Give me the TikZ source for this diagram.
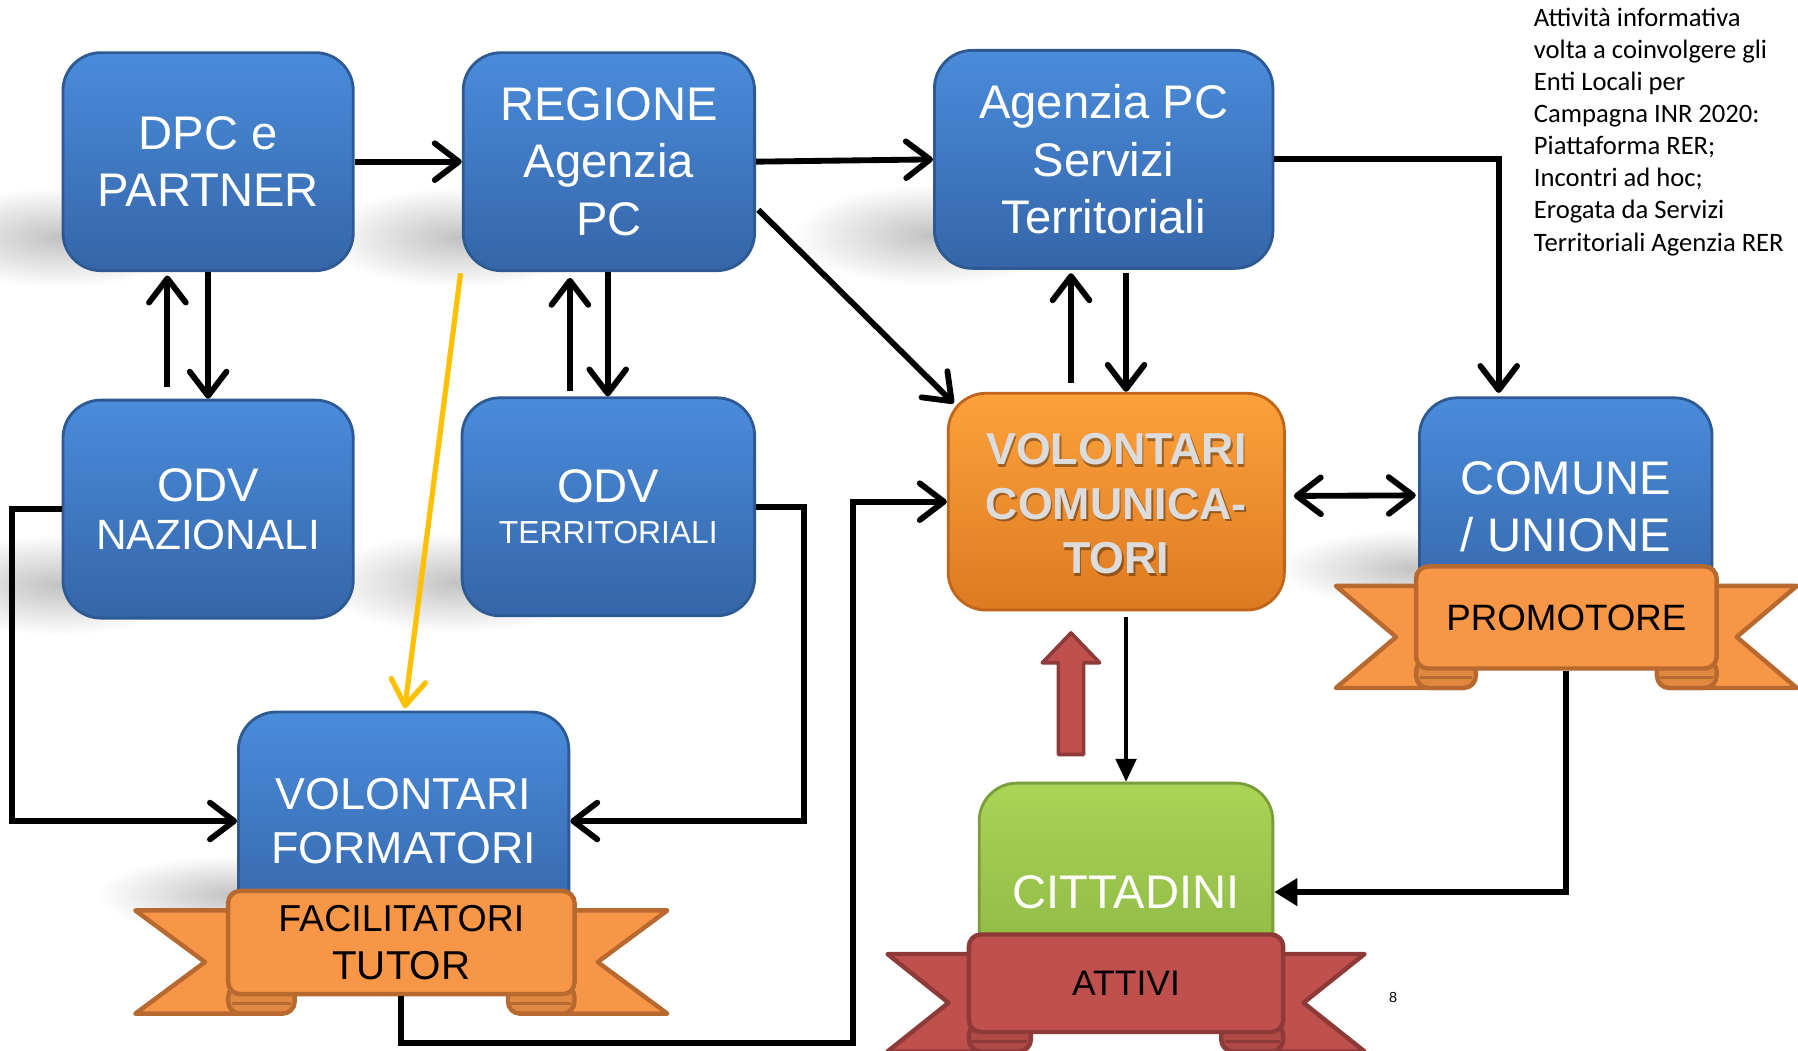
\documentclass[tikz,border=0pt]{standalone}
\usepackage{fontspec}
\setmainfont{Liberation Sans}
\newfontfamily\calib{Carlito}
\usetikzlibrary{arrows.meta,calc}
\definecolor{blueTop}{HTML}{4A8CDB}
\definecolor{blueBot}{HTML}{3565A8}
\definecolor{blueLine}{HTML}{2E5A94}
\definecolor{orTop}{HTML}{FCA13C}
\definecolor{orBot}{HTML}{DD7A22}
\definecolor{orLine}{HTML}{C0651A}
\definecolor{grTop}{HTML}{A9D455}
\definecolor{grBot}{HTML}{89B342}
\definecolor{grLine}{HTML}{7A9E3A}
\definecolor{rofill}{HTML}{F79646}
\definecolor{roline}{HTML}{B7692F}
\definecolor{rodark}{HTML}{E08840}
\definecolor{rrfill}{HTML}{C0504D}
\definecolor{rrline}{HTML}{8E3A38}
\definecolor{rrdark}{HTML}{B04A47}
\definecolor{yel}{HTML}{FFC000}
\definecolor{volctext}{HTML}{DCDCDC}
\tikzset{
  every node/.style={inner sep=0pt},
  boxbase/.style={rounded corners=0.33cm, line width=0.7pt, align=center, minimum height=1.9cm},
  bluebox/.style={boxbase, top color=blueTop, bottom color=blueBot, draw=blueLine, text=white},
  orangebox/.style={boxbase, top color=orTop, bottom color=orBot, draw=orLine},
  greenbox/.style={boxbase, top color=grTop, bottom color=grBot, draw=grLine, text=white},
  fbig/.style={font=\fontsize{11.7pt}{14.2pt}\selectfont},
  fmid/.style={font=\fontsize{11.1pt}{13.4pt}\selectfont},
  arr/.style={line width=1.45pt, -{Straight Barb[length=2.1mm,width=3.2mm,round]}},
  darr/.style={line width=1.45pt, {Straight Barb[length=2.1mm,width=3.2mm,round]}-{Straight Barb[length=2.1mm,width=3.2mm,round]}},
  yarr/.style={line width=1.3pt, draw=yel, -{Straight Barb[length=2.2mm,width=3mm,round]}},
  tarr/.style={line width=0.9pt, -{Triangle[length=2mm,width=1.8mm]}},
  tarrb/.style={line width=1.45pt, -{Triangle[length=2mm,width=2.3mm]}},
  softshadow/.style={inner color=black!24, outer color=white},
}
% ribbon banner: #1 name, #2 left, #3 right, #4 top, #5 bottom, #6 wing reach, #7 colour prefix, #8 fold width, #9 text
\newcommand\ribbonbanner[9]{%
  \filldraw[fill=#7fill, draw=#7line, line width=1.1pt, line join=round]
    ({#2+5},{#4+17}) -- ({#2-#6},{#4+17}) -- ({#2-0.25*#6},{(#4+#5)/2+17}) -- ({#2-#6},{#5+17})
    -- ({#2+#8-10},{#5+17}) -- ({#2+5},{#5}) -- cycle;
  \filldraw[fill=#7fill, draw=#7line, line width=1.1pt, line join=round]
    ({#3-5},{#4+17}) -- ({#3+#6},{#4+17}) -- ({#3+0.25*#6},{(#4+#5)/2+17}) -- ({#3+#6},{#5+17})
    -- ({#3-#8+10},{#5+17}) -- ({#3-5},{#5}) -- cycle;
  \filldraw[fill=#7dark, draw=#7line, line width=1.1pt, rounded corners=3pt] ({#2},{#5-8}) rectangle ({#2+#8},{#5+17});
  \filldraw[fill=#7dark, draw=#7line, line width=1.1pt, rounded corners=3pt] ({#3-#8},{#5-8}) rectangle ({#3},{#5+17});
  \draw[#7line, line width=0.7pt] ({#2+3},{#5+8}) -- ({#2+#8-3},{#5+8});
  \draw[#7line, line width=0.7pt] ({#3-#8+3},{#5+8}) -- ({#3-3},{#5+8});
  \node[draw=#7line, fill=#7fill, line width=1.1pt, rounded corners=3pt, align=center,
        minimum width={(#3-#2)*0.2845pt}, minimum height={(#5-#4)*0.2845pt}]
        (#1) at ({(#2+#3)/2},{(#4+#5)/2}) {#9};}
\newcommand\cshadow[3]{\shade[softshadow] ($(#1)+(-4,#2)$) ellipse [x radius=1.2cm, y radius=#3];}
\begin{document}
\begin{tikzpicture}[x=0.01cm, y=-0.01cm]
\useasboundingbox (0,0) rectangle (1568,916);
\fill[white] (0,0) rectangle (1568,916);

% shadow anchors (box corners) and shadows, drawn first
\coordinate (sdpc) at (55,235);
\coordinate (sreg) at (404,235);
\coordinate (sagz) at (815,233);
\coordinate (sodvn) at (55,538);
\coordinate (sodvt) at (403,536);
\coordinate (scom) at (1238,536);
\coordinate (svolf) at (208,810);
\cshadow{sdpc}{-28}{0.44cm}
\cshadow{sreg}{-28}{0.44cm}
\cshadow{sagz}{-28}{0.44cm}
\cshadow{sodvn}{-28}{0.44cm}
\cshadow{sodvt}{-28}{0.44cm}
\cshadow{scom}{-40}{0.34cm}
\cshadow{svolf}{-30}{0.34cm}

% boxes
\node[bluebox, fbig, minimum width=2.53cm] (dpc) at (181.5,141) {DPC e\\PARTNER};
\node[bluebox, fbig, minimum width=2.54cm] (reg) at (531,141) {REGIONE\\Agenzia\\PC};
\node[bluebox, fbig, minimum width=2.95cm] (agz) at (962.5,139) {Agenzia PC\\Servizi\\Territoriali};
\node[bluebox, minimum width=2.53cm] (odvn) at (181.5,444)
  {\fontsize{11.7pt}{14.2pt}\selectfont ODV\\\fontsize{10.5pt}{14.2pt}\selectfont NAZIONALI};
\node[bluebox, minimum width=2.55cm] (odvt) at (530.5,442)
  {\fontsize{11.7pt}{10.6pt}\selectfont ODV\\[-1.8pt]\fontsize{7.9pt}{10.6pt}\selectfont TERRITORIALI};
\node[bluebox, fbig, minimum width=2.55cm] (com) at (1365.5,442) {COMUNE\\/ UNIONE};
\node[bluebox, fmid, minimum width=2.88cm] (volf) at (352,716) {VOLONTARI\\FORMATORI};
\node[greenbox, fbig, minimum width=2.56cm] (citt) at (982,778) {CITTADINI};
\node[orangebox, minimum width=2.93cm, minimum height=1.89cm] (volc) at (973.5,437.5) {};
\node[align=center, text=black, opacity=0.35, font=\fontsize{11.1pt}{13.5pt}\selectfont\bfseries] (volcsh) at (975,441.5) {VOLONTARI\\COMUNICA-\\TORI};
\node[align=center, text=volctext, font=\fontsize{11.1pt}{13.5pt}\selectfont\bfseries] (volctx) at (973.5,439.5) {VOLONTARI\\COMUNICA-\\TORI};

% ribbons
\ribbonbanner{prom}{1235}{1497}{494}{583}{70}{ro}{52}{\fontsize{9.1pt}{10pt}\selectfont PROMOTORE}
\ribbonbanner{fac}{199}{501}{777}{867}{81}{ro}{58}{\fontsize{9.3pt}{11.1pt}\selectfont FACILITATORI\\TUTOR}
\ribbonbanner{attivi}{845}{1119}{815}{900}{71}{rr}{54}{\fontsize{8.8pt}{10pt}\selectfont ATTIVI}

% red block arrow
\filldraw[fill=rrfill, draw=rrline, line width=0.9pt, line join=round]
  (923,658) -- (923,578) -- (909,578) -- (934,552) -- (959,578) -- (945,578) -- (945,658) -- cycle;

% connectors
\draw[arr] (dpc.east) -- (reg.west);
\draw[arr] (reg.east) -- (agz.west);
\draw[arr] (agz.east) -| ($(com.north)+(-58.5,-3)$);
\draw[arr] ($(reg.east)+(2,42)$) -- ($(volc.north west)+(6,10)$);
\draw[arr] ($(odvn.north)+(-35.5,-10)$) -- ($(dpc.south)+(-35.5,3)$);
\draw[arr] (dpc.south) -- (odvn.north);
\draw[arr] ($(odvt.north)+(-33.5,-5)$) -- ($(reg.south)+(-34,5)$);
\draw[arr] ($(reg.south)+(-1,0)$) -- ($(odvt.north)+(-0.5,0)$);
\draw[arr] ($(volc.north)+(-39.5,-8)$) -- ($(agz.south)+(-28.5,3)$);
\draw[arr] ($(agz.south)+(19.5,3)$) -- ($(volc.north)+(8.5,0)$);
\draw[darr] ($(volc.east)+(7,-5)$) -- ($(com.west)+(-2,-10)$);
\draw[arr] (odvn.west) -- ++(-43,0) |- (volf.west);
\draw[arr] (odvt.east) -- ++(42,0) |- (volf.east);
\draw[arr] (fac.south) -- ++(0,41) -| ($(volc.west)+(-82,0)$) -- (volc.west);
\draw[yarr] ($(reg.south west)+(-1,1)$) -- ($(volf.north)+(1,-2)$);
\draw[tarr] ($(volc.south)+(8.5,5)$) -- (citt.north);
\draw[tarrb] (prom.south) |- (citt.east);

% note and page number
\node[anchor=north west, align=left, font=\calib\fontsize{6.6pt}{7.97pt}\selectfont] (note) at (1337,6)
  {Attività informativa\\volta a coinvolgere gli\\Enti Locali per\\Campagna INR 2020:\\Piattaforma RER;\\Incontri ad hoc;\\Erogata da Servizi\\Territoriali Agenzia RER};
\node[font=\fontsize{3.6pt}{4pt}\selectfont] (pagenum) at (1215,870) {8};
\end{tikzpicture}
\end{document}
